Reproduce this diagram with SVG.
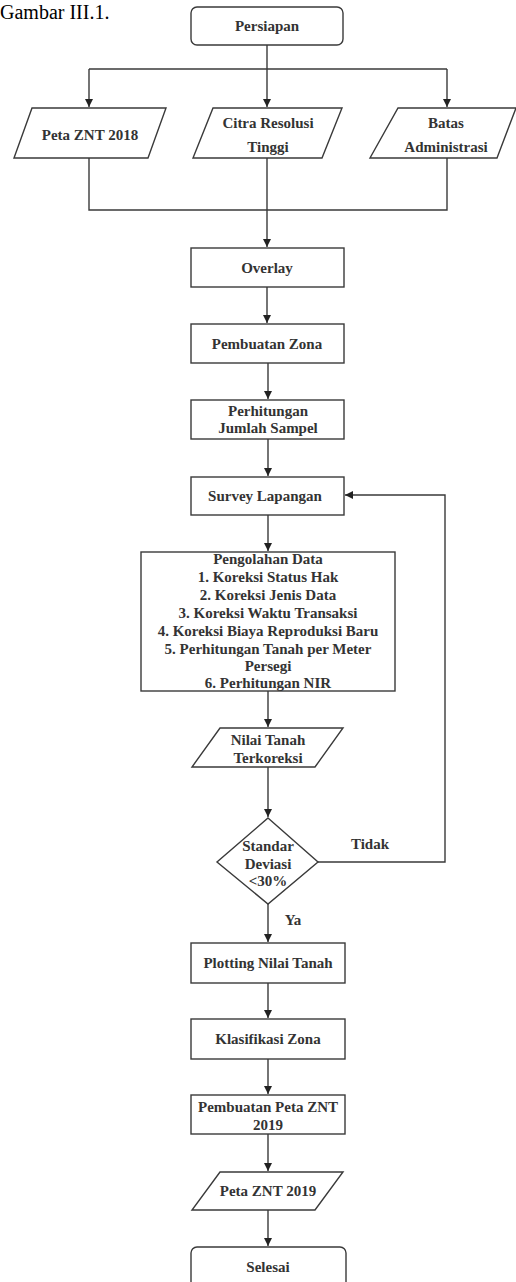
<svg xmlns="http://www.w3.org/2000/svg" width="516" height="1282" viewBox="0 0 516 1282">
<defs>
<style>
.n{fill:#fff;stroke:#3a3a3a;stroke-width:1.4}
.t{font-family:"Liberation Serif","Times New Roman",serif;font-size:15px;font-weight:bold;fill:#333;text-anchor:middle;dominant-baseline:central}
.c{fill:none;stroke:#3a3a3a;stroke-width:1.4}
.title{font-family:"Liberation Serif","Times New Roman",serif;font-size:20px;fill:#000}
</style>
<marker id="ah" markerWidth="8" markerHeight="8" refX="8" refY="4" orient="auto" markerUnits="userSpaceOnUse">
<path d="M0,0 L8,4 L0,8 Z" fill="#222"/>
</marker>
</defs>
<rect width="516" height="1282" fill="#fff"/>
<text class="title" x="0" y="19">Gambar III.1.</text>

<g id="connectors">
<path class="c" d="M267,45 V69"/>
<path class="c" d="M89,69 H447"/>
<path class="c" d="M89,69 V107" marker-end="url(#ah)"/>
<path class="c" d="M267,69 V107" marker-end="url(#ah)"/>
<path class="c" d="M447,69 V107" marker-end="url(#ah)"/>
<path class="c" d="M89,158 V210 H447 V158"/>
<path class="c" d="M267,158 V247" marker-end="url(#ah)"/>
<path class="c" d="M267,287 V323" marker-end="url(#ah)"/>
<path class="c" d="M268,363 V399" marker-end="url(#ah)"/>
<path class="c" d="M268,439 V476" marker-end="url(#ah)"/>
<path class="c" d="M268,515 V551" marker-end="url(#ah)"/>
<path class="c" d="M268,691 V727" marker-end="url(#ah)"/>
<path class="c" d="M268,767 V817" marker-end="url(#ah)"/>
<path class="c" d="M318,862 H445 V495 H345" marker-end="url(#ah)"/>
<path class="c" d="M268,904 V942" marker-end="url(#ah)"/>
<path class="c" d="M268,983 V1018" marker-end="url(#ah)"/>
<path class="c" d="M268,1059 V1094" marker-end="url(#ah)"/>
<path class="c" d="M268,1134 V1171" marker-end="url(#ah)"/>
<path class="c" d="M268,1210 V1246" marker-end="url(#ah)"/>
<text class="t" x="370" y="844">Tidak</text>
<text class="t" x="293" y="920">Ya</text>
</g>

<g id="persiapan">
<rect class="n" x="191" y="7" width="152" height="38" rx="6"/>
<text class="t" x="267" y="26">Persiapan</text>
</g>
<g id="peta2018">
<polygon class="n" points="32,108 166,108 148,158 14,158"/>
<text class="t" x="90" y="135">Peta ZNT 2018</text>
</g>
<g id="citra">
<polygon class="n" points="213,108 342,108 322,158 193,158"/>
<text class="t" x="268" y="123">Citra Resolusi</text>
<text class="t" x="268" y="147">Tinggi</text>
</g>
<g id="batas">
<polygon class="n" points="398,108 516,108 497,158 370,158"/>
<text class="t" x="446" y="123">Batas</text>
<text class="t" x="446" y="147">Administrasi</text>
</g>
<g id="overlay">
<rect class="n" x="191" y="248" width="153" height="39"/>
<text class="t" x="267" y="268">Overlay</text>
</g>
<g id="zona">
<rect class="n" x="191" y="324" width="153" height="39"/>
<text class="t" x="267" y="344">Pembuatan Zona</text>
</g>
<g id="sampel">
<rect class="n" x="191" y="400" width="153" height="39"/>
<text class="t" x="268" y="411">Perhitungan</text>
<text class="t" x="268" y="428">Jumlah Sampel</text>
</g>
<g id="survey">
<rect class="n" x="191" y="477" width="153" height="38"/>
<text class="t" x="265" y="496">Survey Lapangan</text>
</g>
<g id="pengolahan">
<rect class="n" x="141" y="552" width="254" height="139"/>
<text class="t" x="268" y="559">Pengolahan Data</text>
<text class="t" x="268" y="577">1. Koreksi Status Hak</text>
<text class="t" x="268" y="595">2. Koreksi Jenis Data</text>
<text class="t" x="268" y="613">3. Koreksi Waktu Transaksi</text>
<text class="t" x="268" y="631">4. Koreksi Biaya Reproduksi Baru</text>
<text class="t" x="268" y="649">5. Perhitungan Tanah per Meter</text>
<text class="t" x="268" y="666">Persegi</text>
<text class="t" x="268" y="683">6. Perhitungan NIR</text>
</g>
<g id="nilai">
<polygon class="n" points="220,728 343,728 315,767 192,767"/>
<text class="t" x="268" y="740">Nilai Tanah</text>
<text class="t" x="268" y="758">Terkoreksi</text>
</g>
<g id="standar">
<polygon class="n" points="268,818 318,862 268,904 217,862"/>
<text class="t" x="268" y="846">Standar</text>
<text class="t" x="268" y="864">Deviasi</text>
<text class="t" x="268" y="881">&lt;30%</text>
</g>
<g id="plotting">
<rect class="n" x="191" y="943" width="154" height="40"/>
<text class="t" x="268" y="963">Plotting Nilai Tanah</text>
</g>
<g id="klasifikasi">
<rect class="n" x="191" y="1019" width="154" height="40"/>
<text class="t" x="268" y="1039">Klasifikasi Zona</text>
</g>
<g id="pembuatanpeta">
<rect class="n" x="191" y="1095" width="154" height="39"/>
<text class="t" x="268" y="1107">Pembuatan Peta ZNT</text>
<text class="t" x="268" y="1125">2019</text>
</g>
<g id="peta2019">
<polygon class="n" points="220,1172 343,1172 315,1210 192,1210"/>
<text class="t" x="268" y="1191">Peta ZNT 2019</text>
</g>
<g id="selesai">
<rect class="n" x="191" y="1247" width="155" height="50" rx="6"/>
<text class="t" x="268" y="1267">Selesai</text>
</g>
</svg>
